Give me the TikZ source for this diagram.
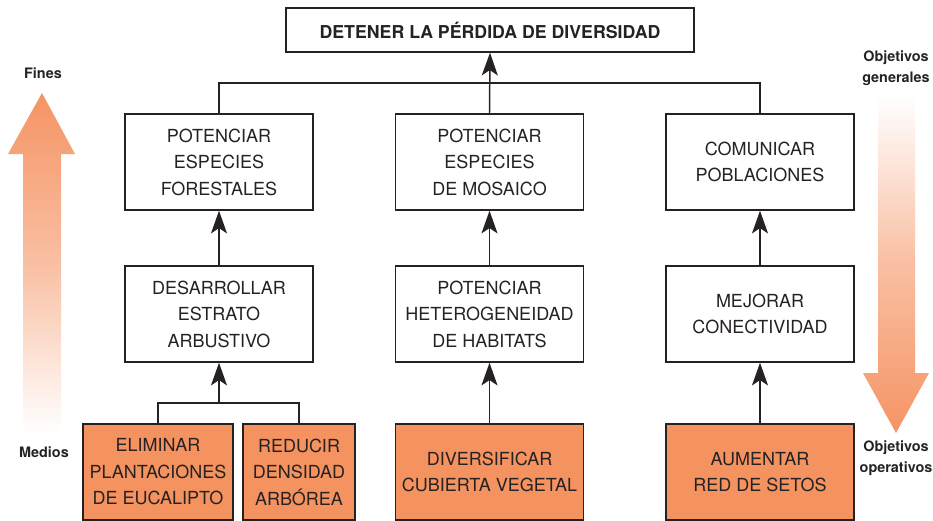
\documentclass[tikz,border=0pt]{standalone}
\usepackage{fontspec}
\setmainfont{TeX Gyre Heros}
\usepackage{tikz}
\usetikzlibrary{arrows.meta}

\definecolor{ink}{RGB}{38,34,35}
\definecolor{boxorange}{RGB}{244,146,96}
\definecolor{arroworange}{RGB}{245,148,100}

\tikzset{
    box/.style={draw=ink, line width=1.1pt, fill=white, text=ink, inner sep=1pt,
        minimum width=141pt, minimum height=72pt, align=center,
        font=\fontsize{13.5}{19.9}\selectfont},
    orangebox/.style={box, fill=boxorange},
    sidelabel/.style={text=ink, align=center, font=\fontsize{10.8}{15.4}\selectfont\bfseries},
    arr/.style={draw=ink, line width=1.1pt, -{Stealth[length=17pt,width=12pt,inset=4pt]}},
    link/.style={draw=ink, line width=1.1pt}
}

\begin{document}
\begin{tikzpicture}[x=0.75pt,y=-0.75pt]
    \useasboundingbox (0,0) rectangle (933,521);

    % flechas grandes de los lados
    \shade[top color=arroworange, bottom color=white, middle color=arroworange!60]
        (42,93) -- (75,154) -- (61,154) -- (61,433) -- (23,433) -- (23,154) -- (8,154) -- cycle;
    \shade[top color=white, bottom color=arroworange, middle color=arroworange!60]
        (896,433) -- (929,373) -- (915,373) -- (915,95) -- (878,95) -- (878,373) -- (863,373) -- cycle;
    \node[sidelabel] (fines) at (43,73) {Fines};
    \node[sidelabel] (medios) at (44,452) {Medios};
    \node[sidelabel] (generales) at (896,68) {Objetivos\\generales};
    \node[sidelabel] (operativos) at (896,458) {Objetivos\\operativos};

    % cajas
    \node[box, minimum width=306pt, minimum height=33pt, font=\fontsize{13.3}{16}\selectfont\bfseries]
        (detener) at (490,30) {DETENER LA PÉRDIDA DE DIVERSIDAD};
    \node[box] (forestales) at (219,162) {POTENCIAR\\ESPECIES\\FORESTALES};
    \node[box] (mosaico) at (489.5,162) {POTENCIAR\\ESPECIES\\DE MOSAICO};
    \node[box] (comunicar) at (760,162) {COMUNICAR\\POBLACIONES};
    \node[box] (arbustivo) at (219,314) {DESARROLLAR\\ESTRATO\\ARBUSTIVO};
    \node[box] (habitats) at (489.5,314) {POTENCIAR\\HETEROGENEIDAD\\DE HABITATS};
    \node[box] (conectividad) at (760,314) {MEJORAR\\CONECTIVIDAD};
    \node[orangebox, minimum width=112.5pt] (eliminar) at (158,472) {ELIMINAR\\PLANTACIONES\\DE EUCALIPTO};
    \node[orangebox, minimum width=84pt] (reducir) at (299,472) {REDUCIR\\DENSIDAD\\ARBÓREA};
    \node[orangebox] (diversificar) at (489.5,472) {DIVERSIFICAR\\CUBIERTA VEGETAL};
    \node[orangebox] (aumentar) at (760,472) {AUMENTAR\\RED DE SETOS};

    % conexiones
    \coordinate (arriba) at (489.5,83);
    \coordinate (abajo) at (219,403);
    \draw[link] (forestales.north) |- (arriba) -| (comunicar.north);
    \draw[arr] (mosaico.north) -- (detener.south);
    \draw[arr] (arbustivo.north) -- (forestales.south);
    \draw[arr] (habitats.north) -- (mosaico.south);
    \draw[arr] (conectividad.north) -- (comunicar.south);
    \draw[link] (eliminar.north) |- (abajo) -| (reducir.north);
    \draw[arr] (abajo) -- (arbustivo.south);
    \draw[arr] (diversificar.north) -- (habitats.south);
    \draw[arr] (aumentar.north) -- (conectividad.south);
\end{tikzpicture}
\end{document}
